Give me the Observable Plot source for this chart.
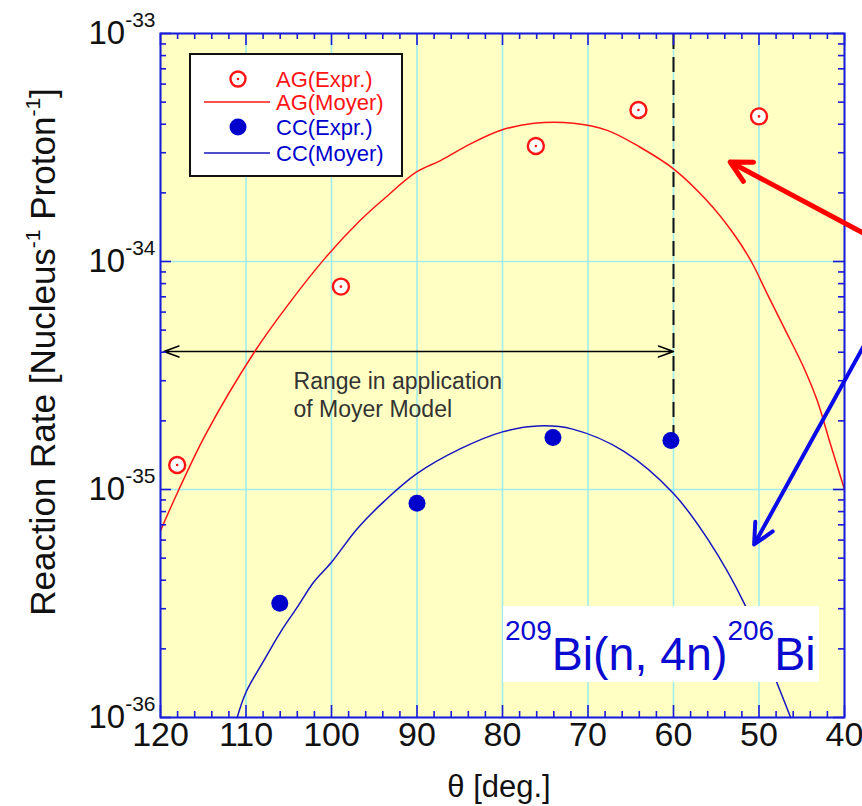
<!DOCTYPE html>
<html><head><meta charset="utf-8">
<script src="https://cdn.jsdelivr.net/npm/d3@7"></script>
<script src="https://cdn.jsdelivr.net/npm/@observablehq/plot@0.6"></script>
<style>html,body{margin:0;padding:0;background:#fff;overflow:hidden}</style>
</head><body><div id="chart"></div>
<script>
// ---- data ----
const agExprTheta = [118.05, 98.9, 76.1, 64.1, 50.0];
const agExprRate  = [1.28e-35, 7.76e-35, 3.21e-34, 4.62e-34, 4.33e-34];
const ccExprTheta = [106.05, 90.0, 74.1, 60.3];
const ccExprRate  = [3.17e-36, 8.7e-36, 1.69e-35, 1.64e-35];
const agMoyerTheta = [120, 117.9, 114.7, 108.9, 105.0, 100.7, 96.6, 93.88, 90.06, 87.25, 83.74, 80.03, 76.3, 71.7, 67.75, 63.9, 60, 56.1, 52.95, 50.9, 49.04, 47.1, 44.77, 43.2, 41.64, 40];
const agMoyerRate  = [6.6e-36, 9.9e-36, 1.75e-35, 4.07e-35, 6.52e-35, 1.04e-34, 1.52e-34, 1.88e-34, 2.47e-34, 2.77e-34, 3.28e-34, 3.78e-34, 4.04e-34, 4.04e-34, 3.76e-34, 3.17e-34, 2.55e-34, 1.85e-34, 1.32e-34, 1.0e-34, 7.21e-35, 5.15e-35, 3.43e-35, 2.46e-35, 1.58e-35, 1.0e-35];
const ccMoyerTheta = [111.03, 110.0, 107.9, 105.96, 104.0, 102.07, 100.0, 96.99, 93.88, 90.06, 84.9, 80, 75.8, 71.8, 65.8, 60, 55.9, 51.7, 48.0, 46.3];
const ccMoyerRate  = [1e-36, 1.29e-36, 1.78e-36, 2.37e-36, 3.05e-36, 3.93e-36, 4.80e-36, 6.73e-36, 8.85e-36, 1.17e-35, 1.51e-35, 1.79e-35, 1.90e-35, 1.84e-35, 1.47e-35, 9.6e-36, 5.98e-36, 3.15e-36, 1.45e-36, 1e-36];
const xTicks = [120, 110, 100, 90, 80, 70, 60, 50, 40];
const yTicks = [1e-36, 1e-35, 1e-34, 1e-33];
const xTickLabels = ["120","110","100","90","80","70","60","50","40"];
const yTickLabels = ["10^{-36}","10^{-35}","10^{-34}","10^{-33}"];
// annotations (data units)
const moyerLimitTheta = 60, moyerLimitLow = 1.64e-35;
const rangeY = 4.03e-35, rangeStart = 90, rangeEnds = [119.6, 60];
const rangeLabel = [{theta: 104.44, rate: 3.36e-35, text: "Range in application\nof Moyer Model"}];
const pointerRed  = [{x1: 30, y1: 9.3e-35, x2: 53.37, y2: 2.73e-34}];
const pointerBlue = [{x1: 30, y1: 1.43e-34, x2: 50.57, y2: 5.74e-36}];

// ---- tables ----
const zip = (xs, ys) => xs.map((x, i) => ({theta: x, rate: ys[i]}));
const agExpr = zip(agExprTheta, agExprRate);
const ccExpr = zip(ccExprTheta, ccExprRate);
const agMoyer = zip(agMoyerTheta, agMoyerRate);
const ccMoyer = zip(ccMoyerTheta, ccMoyerRate);
const minorX = d3.range(42, 120, 2).filter(d => d % 10 !== 0);
const minorY = [];
for (const e of [-36, -35, -34]) for (let k = 2; k <= 9; k++) minorY.push(+(k + "e" + e));
const rangeArrows = rangeEnds.map(e => ({x1: rangeStart, x2: e, y: rangeY}));

const W = 862, H = 806, mL = 160, mR = 18, mT = 33, mB = 89;
const iW = W - mL - mR, iH = H - mT - mB;
const RED = "#ff1414", BLUE = "#0000cc", FRAME = "#1a1ad8", GRID = "#a2ecec";
const FONT = "'Liberation Sans', Arial, Helvetica, sans-serif";

const plot = Plot.plot({
  width: W, height: H,
  marginLeft: mL, marginRight: mR, marginTop: mT, marginBottom: mB,
  style: {fontFamily: FONT, background: "#fff", color: "#111"},
  x: {domain: [120, 40]},
  y: {type: "log", domain: [1e-36, 1e-33]},
  marks: [
    Plot.frame({fill: "#ffffc4", stroke: null}),
    Plot.ruleX(xTicks, {stroke: GRID, strokeWidth: 1.6}),
    Plot.ruleY(yTicks, {stroke: GRID, strokeWidth: 1.6}),
    Plot.text(rangeLabel, {x: "theta", y: "rate", text: "text", textAnchor: "start", lineAnchor: "top", lineHeight: 1.2, fontSize: 23, fill: "#333"}),
    Plot.arrow(rangeArrows, {x1: "x1", y1: "y", x2: "x2", y2: "y", stroke: "#000", strokeWidth: 1.5, headLength: 16, headAngle: 40}),
    Plot.ruleX([moyerLimitTheta], {y1: moyerLimitLow, y2: 1e-33, stroke: "#111", strokeWidth: 2, strokeDasharray: "15,8"}),
    Plot.line(agMoyer, {x: "theta", y: "rate", stroke: RED, strokeWidth: 1.5, curve: "catmull-rom"}),
    Plot.line(ccMoyer, {x: "theta", y: "rate", stroke: "#1515c0", strokeWidth: 1.5, curve: "catmull-rom"}),
    Plot.dot(agExpr, {x: "theta", y: "rate", r: 8, fill: "#fff", stroke: RED, strokeWidth: 2.4}),
    Plot.dot(agExpr, {x: "theta", y: "rate", r: 1.3, fill: RED}),
    Plot.dot(ccExpr, {x: "theta", y: "rate", r: 8.5, fill: BLUE}),
    // inward ticks on all four sides
    Plot.ruleX(xTicks, {stroke: FRAME, strokeWidth: 1.6, insetTop: iH - 12}),
    Plot.ruleX(xTicks, {stroke: FRAME, strokeWidth: 1.6, insetBottom: iH - 12}),
    Plot.ruleX(minorX, {stroke: FRAME, strokeWidth: 1.6, insetTop: iH - 6}),
    Plot.ruleX(minorX, {stroke: FRAME, strokeWidth: 1.6, insetBottom: iH - 6}),
    Plot.ruleY(yTicks, {stroke: FRAME, strokeWidth: 1.6, insetRight: iW - 11}),
    Plot.ruleY(yTicks, {stroke: FRAME, strokeWidth: 1.6, insetLeft: iW - 11}),
    Plot.ruleY(minorY, {stroke: FRAME, strokeWidth: 1.6, insetRight: iW - 6}),
    Plot.ruleY(minorY, {stroke: FRAME, strokeWidth: 1.6, insetLeft: iW - 6}),
    Plot.frame({stroke: FRAME, strokeWidth: 2}),
    Plot.axisX({ticks: xTicks, tickSize: 0, tickPadding: 4, fontSize: 34, label: null,
                tickFormat: d => xTickLabels[xTicks.indexOf(d)]}),
    Plot.axisY({ticks: yTicks, tickSize: 0, tickPadding: 5, fontSize: 33, label: null,
                tickFormat: d => yTickLabels[yTicks.indexOf(d)]}),
    Plot.arrow(pointerRed, {x1: "x1", y1: "y1", x2: "x2", y2: "y2", stroke: "#ff0000", strokeWidth: 5, headLength: 7, headAngle: 55}),
    Plot.arrow(pointerBlue, {x1: "x1", y1: "y1", x2: "x2", y2: "y2", stroke: "#0a0ae8", strokeWidth: 4, headLength: 8.5, headAngle: 52})
  ]
});
document.getElementById("chart").appendChild(plot);

// ---- superscript helper ----
const NS = "http://www.w3.org/2000/svg";
function supify(el, supSize, raise) {
  const parts = el.textContent.split(/\^\{([^}]*)\}/);
  while (el.firstChild) el.removeChild(el.firstChild);
  let up = false;
  parts.forEach((p, i) => {
    if (p === "") return;
    const t = document.createElementNS(NS, "tspan");
    t.textContent = p;
    if (i % 2 === 1) { t.setAttribute("font-size", supSize); if (!up) { t.setAttribute("dy", -raise); up = true; } }
    else if (up) { t.setAttribute("dy", raise); up = false; }
    el.appendChild(t);
  });
}
const svg = d3.select(plot);
svg.selectAll('g[aria-label="y-axis tick label"] text').each(function() { supify(this, 21, 17); });

// axis titles
const yl = svg.append("text").attr("transform", "translate(55,352) rotate(-90)")
  .attr("text-anchor", "middle").attr("font-size", 35).attr("fill", "#111")
  .text("Reaction Rate [Nucleus^{-1} Proton^{-1}]");
supify(yl.node(), 21, 15);
svg.append("text").attr("x", 499).attr("y", 797).attr("text-anchor", "middle")
  .attr("font-size", 31).attr("fill", "#111").text("θ [deg.]");

// legend
const lg = svg.append("g").attr("font-size", 22).attr("text-anchor", "start");
lg.append("rect").attr("x", 190).attr("y", 54).attr("width", 212).attr("height", 122)
  .attr("fill", "#fff").attr("stroke", "#111").attr("stroke-width", 2);
const rows = [
  {label: "AG(Expr.)", color: RED, kind: "open", y: 79},
  {label: "AG(Moyer)", color: RED, kind: "line", y: 102},
  {label: "CC(Expr.)", color: BLUE, kind: "fill", y: 127},
  {label: "CC(Moyer)", color: "#1515c0", kind: "line", y: 153}
];
rows.forEach(r => {
  if (r.kind === "open") {
    lg.append("circle").attr("cx", 238).attr("cy", r.y).attr("r", 7.5).attr("fill", "#fff").attr("stroke", r.color).attr("stroke-width", 2.4);
    lg.append("circle").attr("cx", 238).attr("cy", r.y).attr("r", 1.3).attr("fill", r.color);
  } else if (r.kind === "fill") {
    lg.append("circle").attr("cx", 238).attr("cy", r.y).attr("r", 8.5).attr("fill", r.color);
  } else {
    lg.append("line").attr("x1", 204).attr("x2", 270).attr("y1", r.y).attr("y2", r.y).attr("stroke", r.color).attr("stroke-width", 1.6);
  }
  lg.append("text").attr("x", 276).attr("y", r.y).attr("dy", "0.36em").attr("fill", r.color === RED ? RED : BLUE).text(r.label);
});

// reaction label box
svg.append("rect").attr("x", 503).attr("y", 606).attr("width", 316).attr("height", 76).attr("fill", "#fff");
const rx = svg.append("text").attr("x", 505).attr("y", 670).attr("font-size", 46.5).attr("fill", "#0a0ad0")
  .attr("text-anchor", "start").text("^{209}Bi(n, 4n)^{206}Bi");
supify(rx.node(), 28, 30);
</script>
</body></html>
